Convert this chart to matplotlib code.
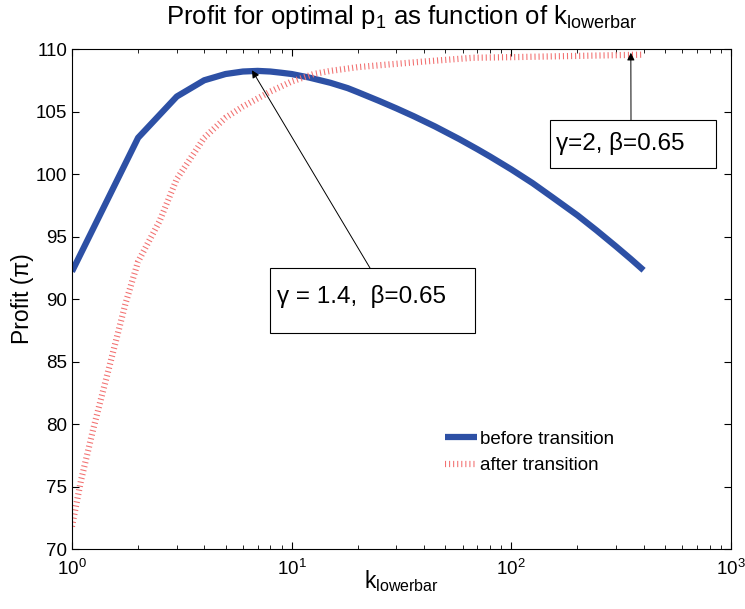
import matplotlib
matplotlib.use('Agg')
import matplotlib.pyplot as plt
from matplotlib.patches import Rectangle

plt.rcParams['font.family'] = ['Liberation Sans', 'DejaVu Sans']
plt.rcParams['mathtext.fontset'] = 'custom'
plt.rcParams['mathtext.rm'] = 'Liberation Sans'
plt.rcParams['mathtext.it'] = 'Liberation Sans'

# values
k_before = [1, 2, 3, 4, 5, 6, 7, 8, 9, 10, 12, 15, 18, 20, 25, 30, 36, 45, 58,
            70, 80, 100, 125, 155, 200, 244, 300, 350, 400]
profit_before = [92.2, 102.9, 106.2, 107.5, 108.0, 108.2, 108.25, 108.2, 108.1,
                 108.0, 107.72, 107.3, 106.87, 106.55, 105.85, 105.25, 104.62,
                 103.8, 102.79, 101.99, 101.4, 100.37, 99.27, 98.1, 96.7, 95.5,
                 94.2, 93.2, 92.3]

k_after = [1, 1.1, 1.25, 1.5, 1.75, 2, 2.5, 3, 4, 5, 6, 8, 10, 12.6, 15, 20,
           25, 40, 67, 100, 200, 400]
profit_after = [71.8, 75.5, 79.6, 85.0, 89.6, 93.0, 96.2, 99.6, 102.9, 104.5,
                105.4, 106.6, 107.4, 108.0, 108.25, 108.55, 108.7, 109.0,
                109.3, 109.35, 109.45, 109.55]

fig = plt.figure(figsize=(7.45, 6.09), dpi=100)
ax = fig.add_axes([0.0966, 0.0985, 0.8846, 0.821])

ax.plot(k_before, profit_before, color='#2d50a5', lw=4.5, label='before transition',
        solid_joinstyle='round', solid_capstyle='butt')
ax.plot(k_after, profit_after, color='#f27070', lw=4.5, dashes=(0.17, 0.48),
        dash_capstyle='butt', label='after transition')

ax.set_xscale('log')
ax.set_xlim(1, 1000)
ax.set_ylim(70, 110)
ax.set_yticks(range(70, 111, 5))
ax.tick_params(which='both', direction='in', top=True, right=True, labelsize=13.5)
ax.tick_params(axis='x', which='both', pad=7)
ax.tick_params(which='major', length=5)
ax.tick_params(which='minor', length=3)
for s in ax.spines.values():
    s.set_linewidth(0.8)

ax.set_title('Profit for optimal p$_1$ as function of k$_{\\mathrm{lowerbar}}$',
             fontsize=18.5, pad=18)
ax.set_xlabel('k$_{\\mathrm{lowerbar}}$', fontsize=16.5, labelpad=-7.5)
ax.set_ylabel('Profit (\u03c0)', fontsize=16.5, labelpad=1)

# annotation boxes (figure pixels, origin bottom-left)
arrow = dict(arrowstyle='-|>', color='black', lw=0.7, mutation_scale=11,
             shrinkA=0, shrinkB=0)
fig.patches.append(Rectangle((270, 276), 205, 65, transform=None, fc='white',
                             ec='black', lw=0.8, zorder=5))
fig.text(277, 306, '\u03b3 = 1.4,  \u03b2=0.65', transform=None, fontsize=17.5,
         va='baseline', zorder=6)
ax.annotate('', xy=(6.6, 108.3), xytext=(370, 341), textcoords='figure pixels',
            arrowprops=arrow)

fig.patches.append(Rectangle((550, 441), 166, 48, transform=None, fc='white',
                             ec='black', lw=0.8, zorder=5))
fig.text(556, 459, '\u03b3=2, \u03b2=0.65', transform=None, fontsize=17.5,
         va='baseline', zorder=6)
ax.annotate('', xy=(350, 109.7), xytext=(631, 489), textcoords='figure pixels',
            arrowprops=arrow)

ax.legend(loc='upper left', bbox_to_anchor=(0.566, 0.237), frameon=False,
          fontsize=13.5, handlelength=1.7, handletextpad=0.15, borderpad=0,
          borderaxespad=0, labelspacing=0.5)

fig.savefig('out.png', dpi=100)
